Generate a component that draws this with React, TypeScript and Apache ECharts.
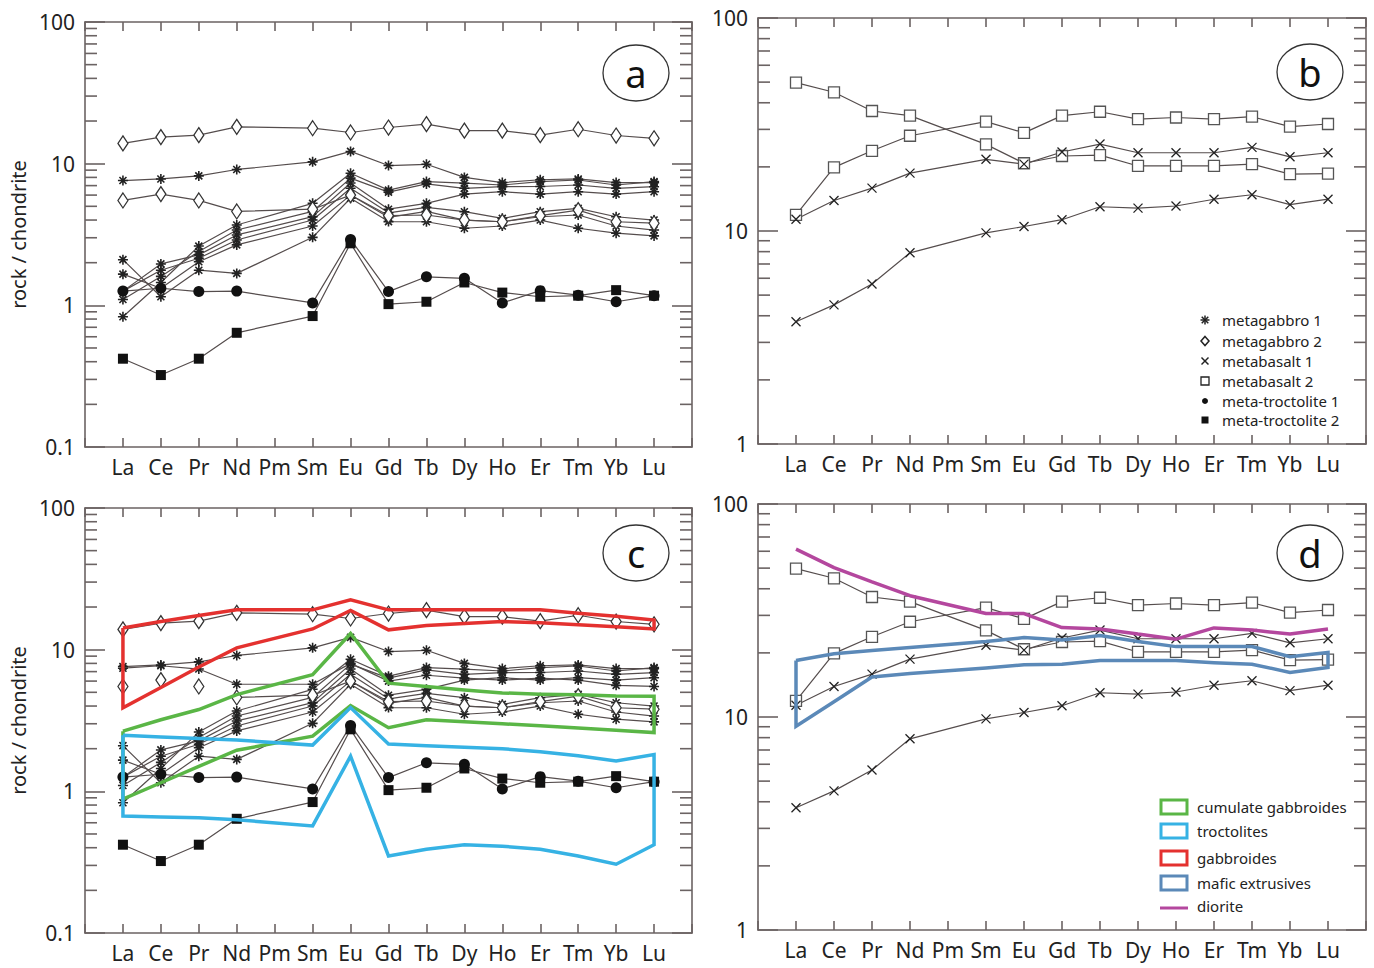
import React, { useEffect, useRef } from 'react';
import * as echarts from 'echarts';

const elements = ['La', 'Ce', 'Pr', 'Nd', 'Pm', 'Sm', 'Eu', 'Gd', 'Tb', 'Dy', 'Ho', 'Er', 'Tm', 'Yb', 'Lu'];
const N = null;

// metagabbro 1 (asterisks)
const mg1_1 = [7.6, 7.8, 8.2, 9.1, N, 10.3, 12.2, 9.7, 9.9, 8.0, 7.35, 7.7, 7.8, 7.35, 7.35];
const mg1_2 = [0.83, 1.45, 2.62, 3.69, N, 5.25, 8.55, 6.5, 7.47, 7.28, 7.07, 7.47, 7.67, 7.07, 7.47];
const mg1_3 = [1.1, 1.6, 2.4, 3.4, N, 4.6, 7.9, 6.3, 7.2, 6.7, 6.88, 6.9, 7.07, 6.7, 6.88];
const mg1_4 = [1.26, 1.96, 2.27, 3.14, N, 4.23, 7.3, 4.77, 5.25, 6.1, 6.34, 6.1, 6.34, 6.1, 6.34];
const mg1_5 = [1.26, 1.77, 2.15, 2.89, N, 4.0, 6.7, 4.5, 4.92, 4.58, 4.11, 4.58, 4.84, 4.22, 4.0];
const mg1_6 = [1.66, 1.32, 2.03, 2.67, N, 3.63, 6.0, 4.18, 4.6, 4.0, 3.89, 4.22, 4.34, 3.63, 3.4];
const mg1_7 = [2.1, 1.15, 1.77, 1.68, N, 3.02, 5.7, 3.9, 3.89, 3.5, 3.63, 4.0, 3.5, 3.23, 3.09];
// metagabbro 2 (diamonds)
const mg2_1 = [13.9, 15.4, 15.9, 18.2, N, 17.8, 16.6, 18.0, 19.0, 17.1, 17.1, 15.9, 17.5, 15.8, 15.1];
const mg2_2 = [5.5, 6.1, 5.5, 4.6, N, 4.77, 6.0, 4.3, 4.34, 4.0, 3.89, 4.3, 4.7, 3.89, 3.8];
// extra sample shown in panel c
const mgC_extra = [7.4, 7.7, 7.3, 5.7, N, 5.7, 8.0, 6.0, 6.6, 6.3, 6.1, 6.3, 6.1, 5.6, 5.5];
// meta-troctolites
const mt1 = [1.26, 1.32, 1.25, 1.26, N, 1.04, 2.92, 1.25, 1.59, 1.55, 1.04, 1.27, 1.18, 1.06, 1.17];
const mt2 = [0.42, 0.322, 0.42, 0.64, N, 0.84, 2.74, 1.02, 1.06, 1.45, 1.23, 1.15, 1.17, 1.28, 1.17];
// metabasalts
const mb1_1 = [11.35, 13.9, 15.9, 18.7, N, 21.7, 20.6, 23.5, 25.6, 23.3, 23.3, 23.3, 24.7, 22.3, 23.3];
const mb1_2 = [3.75, 4.5, 5.64, 7.9, N, 9.8, 10.5, 11.3, 13.0, 12.8, 13.1, 14.1, 14.8, 13.3, 14.1];
const mb2_1 = [49.7, 44.8, 36.6, 34.8, N, 25.5, 20.8, 22.5, 22.7, 20.2, 20.2, 20.2, 20.6, 18.5, 18.6];
const mb2_2 = [11.9, 19.9, 23.8, 28.0, N, 32.6, 28.9, 34.8, 36.3, 33.5, 34.1, 33.5, 34.4, 30.9, 31.8];
// fields (upper / lower envelopes)
const gabUpper = [14.2, 15.8, 17.4, 19.1, N, 19.1, 22.5, 19.1, 19.1, 19.1, 19.1, 19.1, 18.1, 17.2, 16.2];
const gabLower = [3.88, 5.4, 7.55, 10.3, N, 14.0, 18.9, 13.8, 14.8, 15.3, 15.8, 15.5, 15.0, 14.5, 14.0];
const cumUpper = [2.66, 3.2, 3.78, 4.82, N, 6.67, 13.0, 5.8, 5.5, 5.2, 4.95, 4.85, 4.8, 4.7, 4.69];
const cumLower = [0.88, 1.15, 1.5, 1.95, N, 2.45, 4.03, 2.81, 3.2, 3.1, 3.0, 2.9, 2.8, 2.7, 2.6];
const troUpper = [2.49, 2.42, 2.36, 2.3, N, 2.12, 3.9, 2.16, 2.1, 2.05, 2.0, 1.9, 1.78, 1.64, 1.82];
const troLower = [0.67, 0.66, 0.65, 0.63, N, 0.57, 1.77, 0.35, 0.39, 0.42, 0.41, 0.39, 0.35, 0.306, 0.42];
const mafUpper = [18.4, 19.8, 20.5, 21.2, N, 22.6, 23.6, 23.0, 24.1, 22.6, 21.4, 21.4, 21.4, 19.2, 20.1];
const mafLower = [9.04, 11.8, 15.4, 16.0, N, 17.0, 17.6, 17.7, 18.4, 18.4, 18.4, 18.0, 17.7, 16.2, 17.1];
const diorite = [61.4, 50.3, 43.1, 37.1, N, 30.6, 30.6, 26.3, 25.9, 24.5, 23.2, 26.2, 25.6, 24.5, 25.9];

const minorA = [0.2, 0.3, 0.4, 0.5, 0.6, 0.7, 0.8, 0.9, 2, 3, 4, 5, 6, 7, 8, 9, 20, 30, 40, 50, 60, 70, 80, 90];
const minorB = [2, 3, 4, 5, 6, 7, 8, 9, 20, 30, 40, 50, 60, 70, 80, 90];

const FONT = '"Noto Sans", "Liberation Sans", sans-serif';
const AXIS = '#6b6363';
const LINE = '#554d4d';
const C_GREEN = '#5ab646';
const C_BLUE = '#36b2e4';
const C_RED = '#e4312f';
const C_STEEL = '#5b89b8';
const C_MAG = '#b4479e';

const GRIDS = [
  { left: 85, top: 22, width: 607, height: 425, min: 0.1 },
  { left: 758, top: 18, width: 608, height: 426, min: 1 },
  { left: 85, top: 508, width: 607, height: 425, min: 0.1 },
  { left: 758, top: 504, width: 608, height: 426, min: 1 },
];

const ASTER = 'path://M5 0V10M0 5H10M1.5 1.5L8.5 8.5M1.5 8.5L8.5 1.5';
const CROSS = 'path://M0 0L10 10M0 10L10 0';

const MK: any = {
  ast: { symbol: ASTER, symbolSize: 10, itemStyle: { color: 'transparent', borderColor: '#222', borderWidth: 1.6 } },
  dia: { symbol: 'diamond', symbolSize: [10, 15], itemStyle: { color: '#fff', borderColor: '#333', borderWidth: 1.3 } },
  dot: { symbol: 'circle', symbolSize: 11, itemStyle: { color: '#111', borderWidth: 0 } },
  sq: { symbol: 'rect', symbolSize: 10, itemStyle: { color: '#111', borderWidth: 0 } },
  x: { symbol: CROSS, symbolSize: 9, itemStyle: { color: 'transparent', borderColor: '#222', borderWidth: 1.3 } },
  osq: { symbol: 'rect', symbolSize: 11, itemStyle: { color: '#fff', borderColor: '#555', borderWidth: 1.3 } },
};

const pts = (arr: (number | null)[]) =>
  arr.map((v, i) => (v == null ? null : [i, v])).filter((p) => p !== null) as number[][];

function sample(name: string, arr: (number | null)[], g: number, mk: string, showLine = true) {
  return {
    type: 'line',
    name,
    xAxisIndex: g * 2,
    yAxisIndex: g * 2,
    data: pts(arr),
    ...MK[mk],
    showSymbol: true,
    lineStyle: { color: LINE, width: 1.2, opacity: showLine ? 1 : 0 },
    z: 3,
    silent: true,
  };
}

function field(name: string, upper: (number | null)[], lower: (number | null)[], g: number, color: string) {
  const up = pts(upper);
  const lo = pts(lower).reverse();
  return {
    type: 'line',
    name,
    xAxisIndex: g * 2,
    yAxisIndex: g * 2,
    data: [...up, ...lo, up[0]],
    symbol: 'none',
    lineStyle: { color, width: 3.5, join: 'miter' },
    z: 5,
    silent: true,
  };
}

function minorTicks(g: number) {
  const vals = GRIDS[g].min < 1 ? minorA : minorB;
  return {
    type: 'custom',
    xAxisIndex: g * 2,
    yAxisIndex: g * 2,
    data: vals.map((v) => [0, v]),
    encode: { x: 0, y: 1 },
    silent: true,
    z: 1,
    renderItem: (params: any, api: any) => {
      const v = api.value(1);
      const pl = api.coord([-1, v]);
      const pr = api.coord([15, v]);
      return {
        type: 'group',
        children: [
          { type: 'line', shape: { x1: pl[0], y1: pl[1], x2: pl[0] + 12, y2: pl[1] }, style: { stroke: AXIS, lineWidth: 1.6 } },
          { type: 'line', shape: { x1: pr[0] - 12, y1: pr[1], x2: pr[0], y2: pr[1] }, style: { stroke: AXIS, lineWidth: 1.6 } },
        ],
      };
    },
  };
}

function letter(ch: string, cx: number, cy: number) {
  return [
    { type: 'ellipse', shape: { cx, cy, rx: 33, ry: 28 }, style: { fill: '#fff', stroke: '#333', lineWidth: 1.3 }, z: 100 },
    { type: 'text', x: cx, y: cy, style: { text: ch, fill: '#111', font: `38px ${FONT}`, align: 'center', verticalAlign: 'middle' }, z: 101 },
  ];
}

function legendB() {
  const items = [
    ['metagabbro 1', 'ast'],
    ['metagabbro 2', 'dia'],
    ['metabasalt 1', 'x'],
    ['metabasalt 2', 'osq'],
    ['meta-troctolite 1', 'dot'],
    ['meta-troctolite 2', 'sq'],
  ];
  const ys = [320, 341, 361, 381, 401, 420];
  const sx = 1205;
  const out: any[] = [];
  items.forEach(([label, kind], i) => {
    const y = ys[i];
    const st = { stroke: '#222', lineWidth: 1.5 };
    if (kind === 'ast') {
      out.push(
        { type: 'line', shape: { x1: sx - 4.5, y1: y, x2: sx + 4.5, y2: y }, style: st, z: 100 },
        { type: 'line', shape: { x1: sx, y1: y - 4.5, x2: sx, y2: y + 4.5 }, style: st, z: 100 },
        { type: 'line', shape: { x1: sx - 3.3, y1: y - 3.3, x2: sx + 3.3, y2: y + 3.3 }, style: st, z: 100 },
        { type: 'line', shape: { x1: sx - 3.3, y1: y + 3.3, x2: sx + 3.3, y2: y - 3.3 }, style: st, z: 100 }
      );
    } else if (kind === 'dia') {
      out.push({ type: 'polygon', shape: { points: [[sx, y - 4.5], [sx + 4, y], [sx, y + 4.5], [sx - 4, y]] }, style: { fill: '#fff', stroke: '#222', lineWidth: 1.5 }, z: 100 });
    } else if (kind === 'x') {
      out.push(
        { type: 'line', shape: { x1: sx - 3.5, y1: y - 3.5, x2: sx + 3.5, y2: y + 3.5 }, style: st, z: 100 },
        { type: 'line', shape: { x1: sx - 3.5, y1: y + 3.5, x2: sx + 3.5, y2: y - 3.5 }, style: st, z: 100 }
      );
    } else if (kind === 'osq') {
      out.push({ type: 'rect', shape: { x: sx - 4, y: y - 4, width: 8, height: 8 }, style: { fill: '#fff', stroke: '#222', lineWidth: 1.3 }, z: 100 });
    } else if (kind === 'dot') {
      out.push({ type: 'circle', shape: { cx: sx, cy: y, r: 3 }, style: { fill: '#111' }, z: 100 });
    } else {
      out.push({ type: 'rect', shape: { x: sx - 3.5, y: y - 3.5, width: 7, height: 7 }, style: { fill: '#111' }, z: 100 });
    }
    out.push({ type: 'text', x: 1222, y, style: { text: label, fill: '#222', font: `15px ${FONT}`, align: 'left', verticalAlign: 'middle' }, z: 100 });
  });
  return out;
}

function legendD() {
  const items = [
    ['cumulate gabbroides', C_GREEN, 807],
    ['troctolites', C_BLUE, 831],
    ['gabbroides', C_RED, 858],
    ['mafic extrusives', C_STEEL, 883],
  ] as [string, string, number][];
  const out: any[] = [];
  items.forEach(([label, color, y]) => {
    out.push({ type: 'rect', shape: { x: 1161, y: y - 7, width: 26, height: 14 }, style: { fill: 'none', stroke: color, lineWidth: 3 }, z: 100 });
    out.push({ type: 'text', x: 1197, y, style: { text: label, fill: '#222', font: `15px ${FONT}`, align: 'left', verticalAlign: 'middle' }, z: 100 });
  });
  out.push({ type: 'line', shape: { x1: 1160, y1: 908, x2: 1188, y2: 908 }, style: { stroke: C_MAG, lineWidth: 3 }, z: 100 });
  out.push({ type: 'text', x: 1197, y: 906, style: { text: 'diorite', fill: '#222', font: `15px ${FONT}`, align: 'left', verticalAlign: 'middle' }, z: 100 });
  return out;
}

function buildOption() {
  const grid = GRIDS.map((g) => ({ left: g.left, top: g.top, width: g.width, height: g.height }));
  const xAxis: any[] = [];
  const yAxis: any[] = [];
  GRIDS.forEach((g, i) => {
    const xBase = {
      type: 'value',
      gridIndex: i,
      min: -1,
      max: 15,
      interval: 1,
      splitLine: { show: false },
      axisLine: { show: true, onZero: false, lineStyle: { color: AXIS, width: 1.6 } },
      axisTick: { show: true, inside: true, length: 9, lineStyle: { color: AXIS, width: 1.6 } },
    };
    xAxis.push({
      ...xBase,
      position: 'bottom',
      axisLabel: {
        show: true,
        margin: 9,
        color: '#222',
        fontSize: 21,
        fontFamily: FONT,
        formatter: (v: number) => elements[v] ?? '',
      },
    });
    xAxis.push({ ...xBase, position: 'top', axisLabel: { show: false } });
    const yBase = {
      type: 'log',
      logBase: 10,
      gridIndex: i,
      min: g.min,
      max: 100,
      splitLine: { show: false },
      axisLine: { show: true, onZero: false, lineStyle: { color: AXIS, width: 1.6 } },
      axisTick: { show: true, inside: true, length: 20, lineStyle: { color: AXIS, width: 1.6 } },
    };
    const isLeftPanel = i === 0 || i === 2;
    yAxis.push({
      ...yBase,
      position: 'left',
      name: isLeftPanel ? 'rock / chondrite' : '',
      nameLocation: 'middle',
      nameGap: 57,
      nameRotate: 90,
      nameTextStyle: { color: '#222', fontSize: 20, fontFamily: FONT },
      axisLabel: {
        show: true,
        margin: 10,
        color: '#222',
        fontSize: 21,
        fontFamily: FONT,
        formatter: (v: number) => (v < 1 ? v.toFixed(1) : String(Math.round(v))),
      },
    });
    yAxis.push({ ...yBase, position: 'right', axisLabel: { show: false } });
  });

  const series: any[] = [];
  GRIDS.forEach((_, i) => series.push(minorTicks(i)));

  // panel a
  const mg1 = [mg1_1, mg1_2, mg1_3, mg1_4, mg1_5, mg1_6, mg1_7];
  mg1.forEach((s) => series.push(sample('metagabbro 1', s, 0, 'ast')));
  series.push(sample('metagabbro 2', mg2_1, 0, 'dia'));
  series.push(sample('metagabbro 2', mg2_2, 0, 'dia'));
  series.push(sample('meta-troctolite 1', mt1, 0, 'dot'));
  series.push(sample('meta-troctolite 2', mt2, 0, 'sq'));

  // panel b
  series.push(sample('metabasalt 2', mb2_1, 1, 'osq'));
  series.push(sample('metabasalt 2', mb2_2, 1, 'osq'));
  series.push(sample('metabasalt 1', mb1_1, 1, 'x'));
  series.push(sample('metabasalt 1', mb1_2, 1, 'x'));

  // panel c
  mg1.forEach((s) => series.push(sample('metagabbro 1', s, 2, 'ast')));
  series.push(sample('metagabbro 1', mgC_extra, 2, 'ast'));
  series.push(sample('metagabbro 2', mg2_1, 2, 'dia'));
  series.push(sample('metagabbro 2', mg2_2.map((v, i) => (i < 3 ? null : v)), 2, 'dia'));
  series.push(sample('metagabbro 2', mg2_2.map((v, i) => (i < 3 ? v : null)), 2, 'dia', false));
  series.push(sample('meta-troctolite 1', mt1, 2, 'dot'));
  series.push(sample('meta-troctolite 2', mt2, 2, 'sq'));
  series.push(field('gabbroides', gabUpper, gabLower, 2, C_RED));
  series.push(field('cumulate gabbroides', cumUpper, cumLower, 2, C_GREEN));
  series.push(field('troctolites', troUpper, troLower, 2, C_BLUE));

  // panel d
  series.push(sample('metabasalt 2', mb2_1, 3, 'osq'));
  series.push(sample('metabasalt 2', mb2_2, 3, 'osq'));
  series.push(sample('metabasalt 1', mb1_1, 3, 'x'));
  series.push(sample('metabasalt 1', mb1_2, 3, 'x'));
  series.push(field('mafic extrusives', mafUpper, mafLower, 3, C_STEEL));
  series.push({
    type: 'line',
    name: 'diorite',
    xAxisIndex: 6,
    yAxisIndex: 6,
    data: pts(diorite),
    symbol: 'none',
    lineStyle: { color: C_MAG, width: 3.5 },
    z: 5,
    silent: true,
  });

  return {
    animation: false,
    backgroundColor: '#fff',
    textStyle: { fontFamily: FONT },
    grid,
    xAxis,
    yAxis,
    series,
    graphic: [
      ...letter('a', 636, 73),
      ...letter('b', 1310, 72),
      ...letter('c', 636, 553),
      ...letter('d', 1310, 553),
      ...legendB(),
      ...legendD(),
    ],
  };
}

export default function App() {
  const ref = useRef<HTMLDivElement>(null);
  useEffect(() => {
    const chart = echarts.init(ref.current as HTMLDivElement, undefined, { renderer: 'svg' });
    chart.setOption(buildOption() as any);
    return () => chart.dispose();
  }, []);
  return (
    <div
      ref={ref}
      style={{ position: 'fixed', left: 0, top: 0, width: 1374, height: 968, background: '#fff' }}
    />
  );
}
